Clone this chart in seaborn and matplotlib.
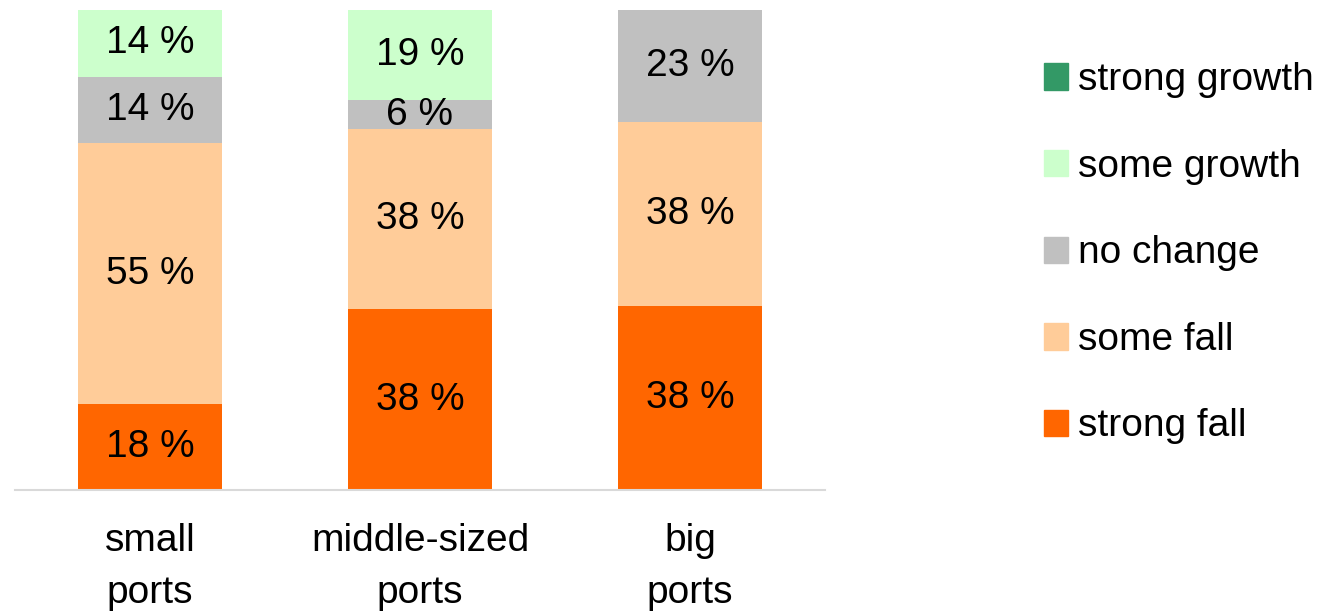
"""
Expected change by port size, stacked 100 % bars
"""
import numpy as np
import matplotlib
matplotlib.use('Agg')
import matplotlib.pyplot as plt
import matplotlib.patches as mpatches
import seaborn as sns

ports = ['small\nports', 'middle-sized\nports', 'big\nports']

# bottom to top
levels = ['strong fall', 'some fall', 'no change', 'some growth', 'strong growth']
strong_fall = [18, 38, 38]
some_fall = [55, 38, 38]
no_change = [14, 6, 23]
some_growth = [14, 19, 0]
strong_growth = [0, 0, 0]

colors = ['#FF6600', '#FFCC99', '#C0C0C0', '#CCFFCC', '#339966']

sns.set_style('white')
plt.rcParams['font.family'] = ['Liberation Sans', 'DejaVu Sans']
plt.rcParams['text.color'] = 'black'
plt.rcParams['xtick.color'] = 'black'

series = np.array([strong_fall, some_fall, no_change, some_growth, strong_growth], float)
# labels sum to ~100 by rounding, the bars fill the full height
shares = series / series.sum(axis=0) * 100

fig = plt.figure(figsize=(13.29, 6.15), dpi=100)
ax = fig.add_axes([15/1329, 1 - 490/615, 810/1329, 480/615])

bottom = np.zeros(len(ports))
for name, vals, share, col in zip(levels, series, shares, colors):
    sns.barplot(x=ports, y=share, bottom=bottom, color=col, width=0.535,
                saturation=1, ax=ax, linewidth=0)
    cont = ax.containers[-1]
    ax.bar_label(cont, labels=[f'{v:.0f} %' if v > 0 else '' for v in vals],
                 label_type='center', fontsize=28, color='black')
    bottom = bottom + share

ax.set_xlim(-0.5, 2.5)
ax.set_ylim(0, 100)
ax.set_yticks([])
ax.set_ylabel('')
for s in ['top', 'right', 'left']:
    ax.spines[s].set_visible(False)
ax.spines['bottom'].set_color('#d9d9d9')
ax.spines['bottom'].set_linewidth(1.5)
ax.tick_params(axis='x', length=0, pad=24, labelsize=28, labelcolor='black')
for t in ax.get_xticklabels():
    t.set_linespacing(1.55)

handles = [mpatches.Patch(color=c, label=l) for l, c in zip(levels, colors)][::-1]
fig.legend(handles=handles, loc='center left', bbox_to_anchor=(1028/1329, 0.588),
           frameon=False, fontsize=28, handlelength=0.64, handleheight=0.67,
           handletextpad=0.25, labelspacing=1.30, borderaxespad=0)

plt.savefig('out.png', dpi=100)
